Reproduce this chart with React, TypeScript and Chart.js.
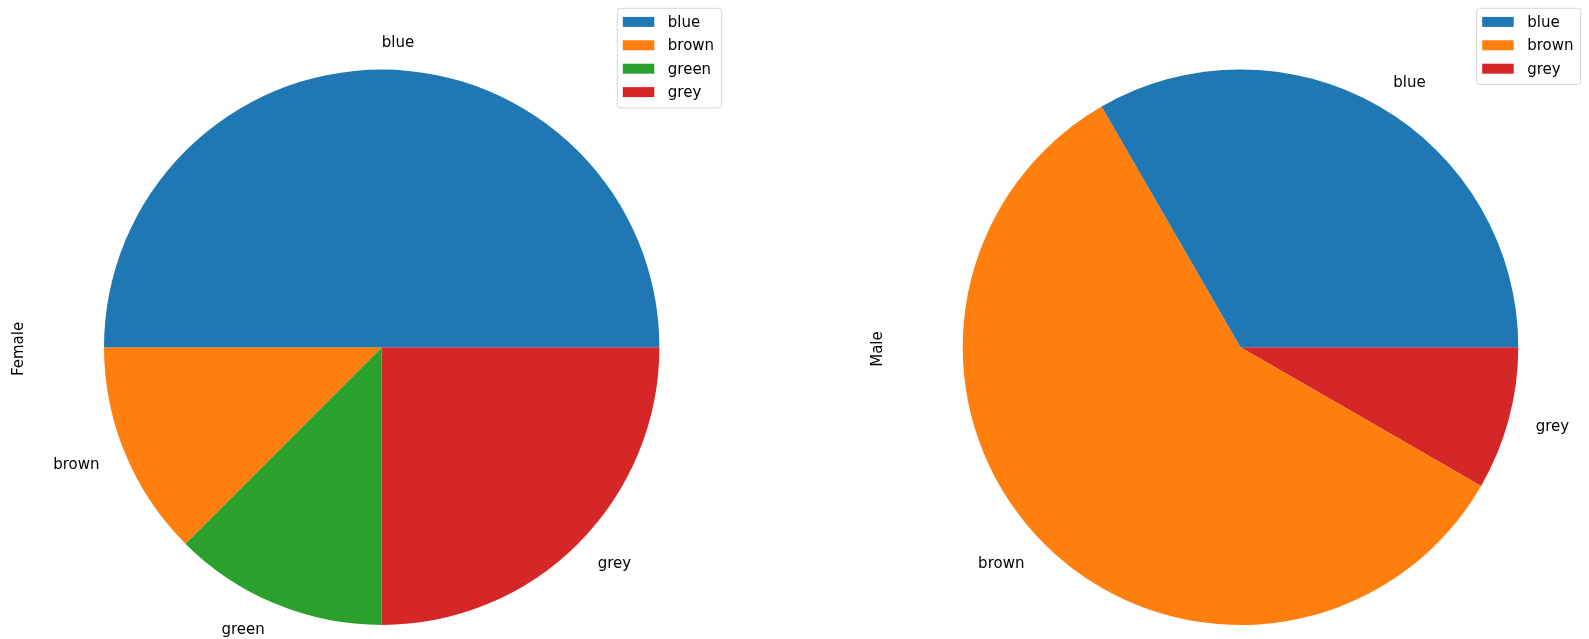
import React, { useEffect, useRef } from "react";
import { Chart, registerables } from "chart.js";

Chart.register(...registerables);

const femaleLabels = ["blue", "brown", "green", "grey"];
const femaleValues = [4, 1, 1, 2];
const maleLabels = ["blue", "brown", "grey"];
const maleValues = [4, 7, 1];
const colorMap: Record<string, string> = {
  blue: "#1f77b4",
  brown: "#ff7f0e",
  green: "#2ca02c",
  grey: "#d62728",
};

const FONT = '15px "DejaVu Sans"';

type PieCfg = {
  labels: string[];
  values: number[];
  yLabel: string;
  yLabelX: number;
  legendX: number;
  legendW: number;
  padding: { left: number; right: number; top: number; bottom: number };
};

function makePlugin(cfg: PieCfg) {
  return {
    id: "mplDecor",
    afterDraw(chart: any) {
      const ctx: CanvasRenderingContext2D = chart.ctx;
      const meta = chart.getDatasetMeta(0);
      ctx.save();
      ctx.font = FONT;
      ctx.fillStyle = "#000";
      ctx.textBaseline = "middle";
      // wedge labels at 1.1 radius
      meta.data.forEach((arc: any, i: number) => {
        const p = arc.getProps(["x", "y", "startAngle", "endAngle", "outerRadius"], true);
        const mid = (p.startAngle + p.endAngle) / 2;
        const r = p.outerRadius * 1.1;
        const c = Math.cos(mid);
        const tx = p.x + r * c;
        const ty = p.y + r * Math.sin(mid);
        ctx.textAlign = c < -1e-9 ? "right" : "left";
        ctx.fillText(String(chart.data.labels[i]), tx, ty + 1);
      });
      // y-axis label
      ctx.save();
      ctx.translate(cfg.yLabelX, 349);
      ctx.rotate(-Math.PI / 2);
      ctx.textAlign = "center";
      ctx.fillText(cfg.yLabel, 0, 0);
      ctx.restore();
      // legend
      const lx = cfg.legendX;
      const ly = 8.3;
      const rowH = 23.4;
      const h = cfg.labels.length * rowH + 6;
      const w = cfg.legendW;
      const rad = 3;
      ctx.beginPath();
      ctx.moveTo(lx + rad, ly);
      ctx.lineTo(lx + w - rad, ly);
      ctx.arcTo(lx + w, ly, lx + w, ly + rad, rad);
      ctx.lineTo(lx + w, ly + h - rad);
      ctx.arcTo(lx + w, ly + h, lx + w - rad, ly + h, rad);
      ctx.lineTo(lx + rad, ly + h);
      ctx.arcTo(lx, ly + h, lx, ly + h - rad, rad);
      ctx.lineTo(lx, ly + rad);
      ctx.arcTo(lx, ly, lx + rad, ly, rad);
      ctx.closePath();
      ctx.fillStyle = "rgba(255,255,255,0.8)";
      ctx.fill();
      ctx.strokeStyle = "#d6d6d6";
      ctx.lineWidth = 1;
      ctx.stroke();
      cfg.labels.forEach((lab, i) => {
        const cy = ly + 13.6 + i * rowH;
        ctx.fillStyle = colorMap[lab];
        ctx.fillRect(lx + 5.5, cy - 5, 31.5, 10);
        ctx.fillStyle = "#000";
        ctx.textAlign = "left";
        ctx.fillText(lab, lx + 50.5, cy + 1);
      });
      ctx.restore();
    },
  };
}

function PieCanvas({ cfg, width, left }: { cfg: PieCfg; width: number; left: number }) {
  const ref = useRef<HTMLCanvasElement | null>(null);
  useEffect(() => {
    if (!ref.current) return;
    const labs = cfg.labels.slice().reverse();
    const vals = cfg.values.slice().reverse();
    const chart = new Chart(ref.current, {
      type: "pie",
      data: {
        labels: labs,
        datasets: [
          {
            data: vals,
            backgroundColor: labs.map((l) => colorMap[l]),
            borderWidth: 0,
            hoverOffset: 0,
          },
        ],
      },
      options: {
        responsive: false,
        animation: false,
        rotation: 90,
        layout: { padding: cfg.padding },
        plugins: {
          legend: { display: false },
          tooltip: { enabled: false },
          title: { display: false },
        },
        events: [],
      },
      plugins: [makePlugin(cfg)],
    } as any);
    return () => chart.destroy();
  }, []);
  return (
    <canvas
      ref={ref}
      width={width}
      height={639}
      style={{ position: "absolute", left, top: 0, width, height: 639 }}
    />
  );
}

export default function App() {
  const leftCfg: PieCfg = {
    labels: femaleLabels,
    values: femaleValues,
    yLabel: "Female",
    yLabelX: 19,
    legendX: 617.3,
    legendW: 104.4,
    padding: { left: 104, right: 135.6, top: 69.6, bottom: 14 },
  };
  const rightCfg: PieCfg = {
    labels: maleLabels,
    values: maleValues,
    yLabel: "Male",
    yLabelX: 878 - 795,
    legendX: 1476.7 - 795,
    legendW: 104,
    padding: { left: 167.7, right: 70.7, top: 69.4, bottom: 14 },
  };
  return (
    <div style={{ position: "fixed", left: 0, top: 0, width: 1589, height: 639, background: "#fff" }}>
      <PieCanvas cfg={leftCfg} width={795} left={0} />
      <PieCanvas cfg={rightCfg} width={794} left={795} />
    </div>
  );
}
